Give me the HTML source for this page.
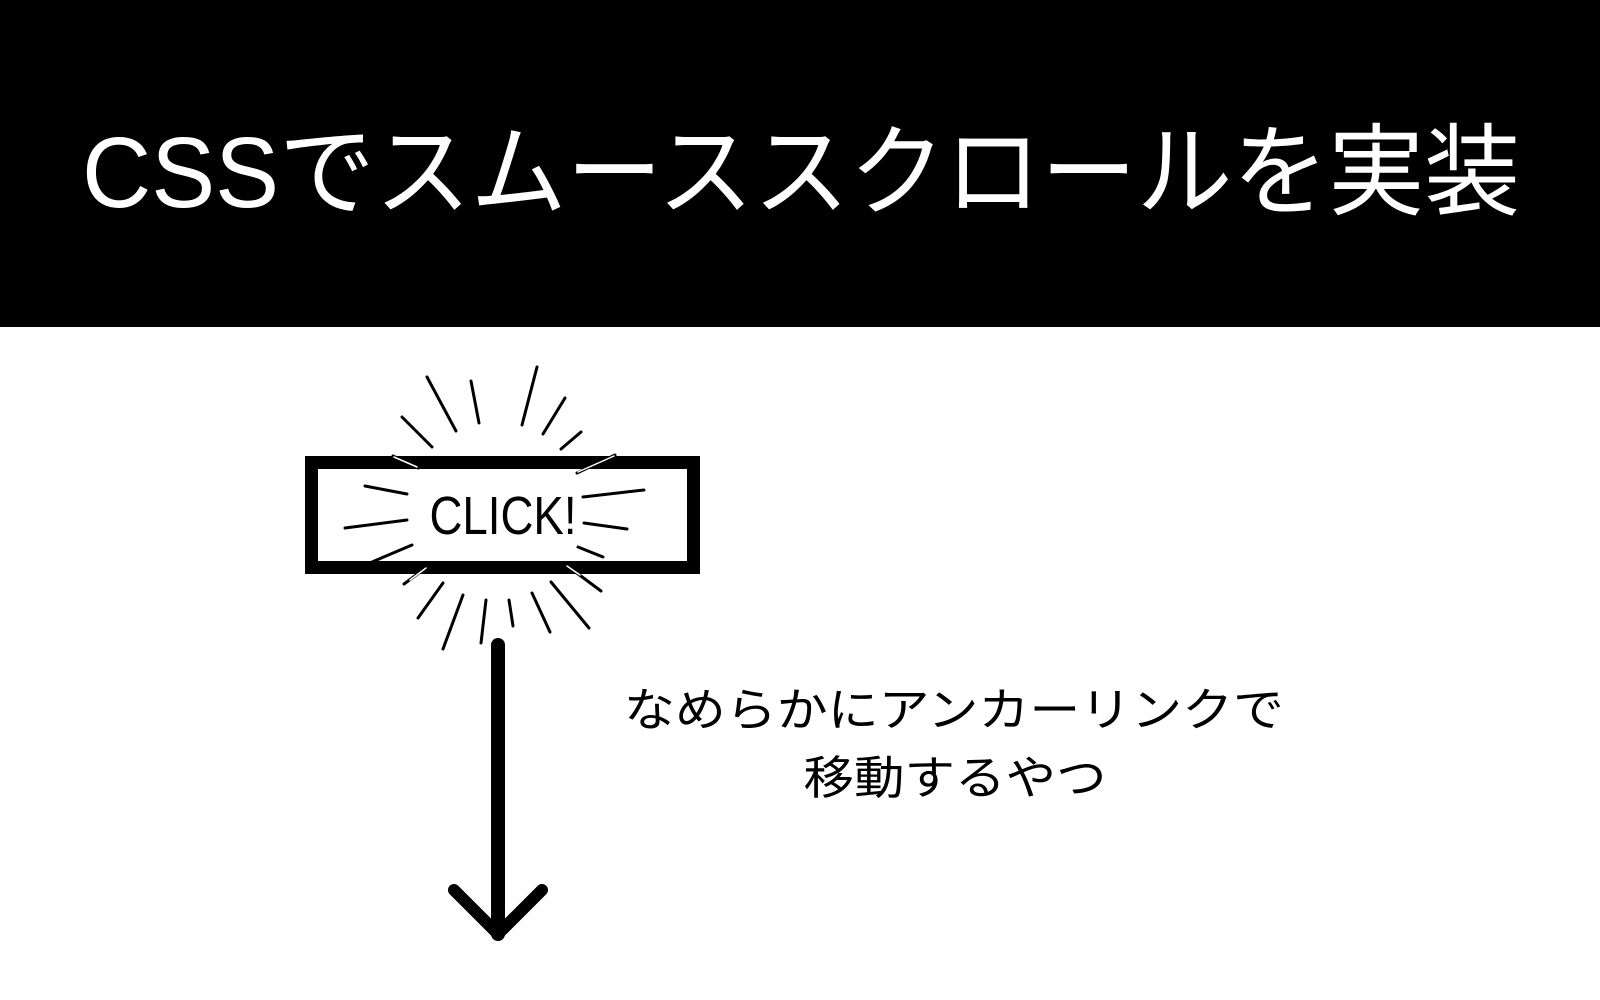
<!DOCTYPE html>
<html><head><meta charset="utf-8"><style>
html,body{margin:0;padding:0;background:#fff;width:1600px;height:1000px;overflow:hidden}
svg{display:block}
text{font-family:"Liberation Sans","Noto Sans CJK JP",sans-serif}
</style></head><body>
<svg width="1600" height="1000" viewBox="0 0 1600 1000">
<rect x="0" y="0" width="1600" height="327" fill="#000"/>
<text x="801" y="207" font-size="100" fill="#fff" text-anchor="middle" textLength="1438" lengthAdjust="spacingAndGlyphs">CSSでスムーススクロールを実装</text>
<rect x="311.5" y="462.5" width="382" height="105" fill="#fff" stroke="#000" stroke-width="13"/>
<text x="503" y="534" font-size="54" fill="#000" text-anchor="middle" textLength="147" lengthAdjust="spacingAndGlyphs">CLICK!</text>
<g stroke="#000" stroke-width="3" stroke-linecap="round">
<line x1="427" y1="377" x2="456" y2="431"/>
<line x1="471" y1="381" x2="479" y2="423"/>
<line x1="537" y1="367" x2="522" y2="425"/>
<line x1="565" y1="398" x2="543" y2="434"/>
<line x1="402" y1="417" x2="432" y2="447"/>
<line x1="581" y1="432" x2="561" y2="449"/>
<line x1="365" y1="486" x2="407" y2="494"/>
<line x1="345" y1="528" x2="407" y2="520"/>
<line x1="372" y1="562" x2="412" y2="545"/>
<line x1="583" y1="497" x2="644" y2="490"/>
<line x1="584" y1="523" x2="627" y2="529"/>
<line x1="578" y1="547" x2="603" y2="557"/>
<line x1="427" y1="567" x2="404" y2="584"/>
<line x1="566" y1="565" x2="601" y2="591"/>
<line x1="443" y1="583" x2="418" y2="618"/>
<line x1="463" y1="595" x2="443" y2="649"/>
<line x1="486" y1="600" x2="481" y2="643"/>
<line x1="509" y1="600" x2="513" y2="626"/>
<line x1="532" y1="593" x2="550" y2="632"/>
<line x1="551" y1="582" x2="589" y2="628"/>
<line x1="393" y1="456" x2="418" y2="468"/>
<line x1="615" y1="455" x2="577" y2="473"/>
</g>
<g stroke="#fff" stroke-width="1.5" stroke-linecap="round">
<line x1="394" y1="457" x2="417" y2="467"/>
<line x1="614" y1="456" x2="578" y2="472"/>
<line x1="426" y1="568" x2="410" y2="580"/>
<line x1="567" y1="566" x2="580" y2="575"/>
</g>
<line x1="498" y1="645" x2="498" y2="934" stroke="#000" stroke-width="14" stroke-linecap="round"/>
<polyline points="454,890 498,934 542,890" fill="none" stroke="#000" stroke-width="12" stroke-linecap="round" stroke-linejoin="round"/>
<text x="954" y="726" font-size="46" fill="#000" text-anchor="middle" textLength="660" lengthAdjust="spacingAndGlyphs">なめらかにアンカーリンクで</text>
<text x="955" y="794" font-size="46" fill="#000" text-anchor="middle" textLength="303" lengthAdjust="spacingAndGlyphs">移動するやつ</text>
</svg>
</body></html>
